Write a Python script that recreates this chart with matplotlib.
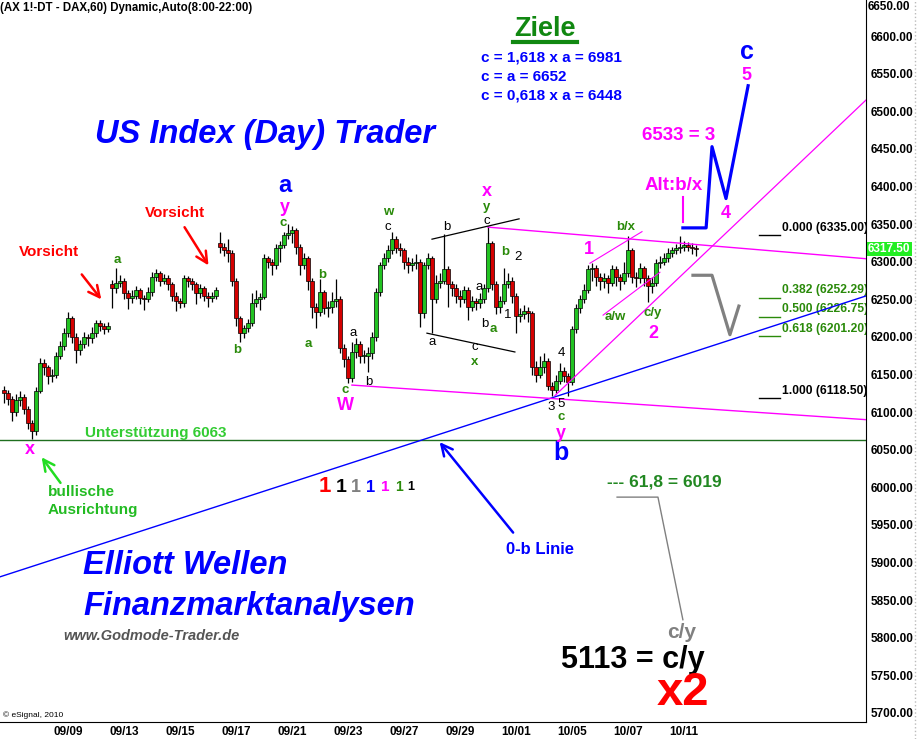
import matplotlib
matplotlib.use("Agg")
import matplotlib.pyplot as plt
from matplotlib.lines import Line2D
import numpy as np

plt.rcParams['font.family'] = ['Liberation Sans', 'DejaVu Sans']

bar_close = [6125, 6118, 6100, 6116, 6120, 6104, 6085, 6075, 6128, 6165,
             6160, 6148, 6150, 6175, 6188, 6205, 6225, 6200, 6182, 6190,
             6200, 6198, 6205, 6218, 6215, 6210, 6215, 6265, 6272, 6275,
             6258, 6252, 6255, 6262, 6252, 6250, 6260, 6280, 6285, 6275,
             6278, 6270, 6255, 6248, 6245, 6278, 6274, 6270, 6258, 6265,
             6255, 6252, 6255, 6262, 6320, 6316, 6312, 6275, 6225, 6205,
             6212, 6218, 6245, 6250, 6253, 6305, 6300, 6295, 6318, 6322,
             6335, 6338, 6342, 6320, 6295, 6305, 6275, 6240, 6233, 6260,
             6238, 6240, 6248, 6250, 6185, 6170, 6145, 6180, 6190, 6175,
             6175, 6178, 6200, 6260, 6295, 6305, 6315, 6330, 6318, 6315,
             6300, 6295, 6298, 6300, 6232, 6295, 6305, 6250, 6272, 6275,
             6290, 6270, 6265, 6255, 6250, 6262, 6240, 6248, 6245, 6250,
             6265, 6325, 6270, 6240, 6248, 6270, 6275, 6255, 6228, 6230,
             6235, 6232, 6160, 6150, 6160, 6168, 6135, 6130, 6142, 6155,
             6148, 6140, 6210, 6238, 6250, 6262, 6290, 6292, 6280, 6275,
             6278, 6272, 6290, 6280, 6275, 6285, 6315, 6280, 6278, 6292,
             6278, 6268, 6272, 6298, 6300, 6305, 6312, 6315, 6318, 6320,
             6322, 6320, 6318, 6317.5]
bar_high = [6135, 6130, 6122, 6124, 6128, 6124, 6108, 6090, 6134, 6172,
            6170, 6163, 6158, 6180, 6195, 6212, 6233, 6228, 6205, 6196,
            6207, 6204, 6213, 6223, 6222, 6219, 6220, 6276, 6292, 6282,
            6279, 6262, 6262, 6268, 6265, 6256, 6266, 6286, 6290, 6288,
            6284, 6282, 6273, 6260, 6252, 6282, 6281, 6278, 6273, 6270,
            6268, 6260, 6260, 6266, 6340, 6325, 6330, 6315, 6278, 6228,
            6216, 6224, 6258, 6262, 6258, 6310, 6308, 6304, 6324, 6328,
            6340, 6350, 6348, 6345, 6324, 6312, 6308, 6278, 6245, 6277,
            6263, 6248, 6260, 6277, 6254, 6190, 6174, 6193, 6198, 6195,
            6182, 6186, 6206, 6265, 6300, 6312, 6322, 6340, 6334, 6325,
            6318, 6306, 6305, 6310, 6303, 6300, 6312, 6308, 6282, 6285,
            6337, 6294, 6275, 6270, 6262, 6268, 6266, 6255, 6252, 6258,
            6270, 6348, 6328, 6275, 6255, 6292, 6285, 6280, 6258, 6238,
            6242, 6240, 6234, 6168, 6175, 6178, 6172, 6140, 6150, 6165,
            6160, 6152, 6215, 6244, 6256, 6270, 6296, 6298, 6295, 6285,
            6285, 6282, 6296, 6294, 6284, 6300, 6334, 6318, 6286, 6298,
            6294, 6282, 6280, 6303, 6308, 6312, 6318, 6320, 6324, 6334,
            6328, 6326, 6325, 6322]
bar_low = [6112, 6110, 6088, 6095, 6108, 6098, 6078, 6064, 6070, 6125,
           6150, 6138, 6140, 6146, 6170, 6182, 6200, 6192, 6165, 6176,
           6185, 6188, 6192, 6200, 6208, 6204, 6206, 6238, 6258, 6266,
           6250, 6237, 6245, 6250, 6244, 6236, 6246, 6255, 6274, 6268,
           6270, 6262, 6248, 6235, 6238, 6240, 6266, 6262, 6244, 6252,
           6248, 6240, 6247, 6250, 6312, 6308, 6300, 6268, 6215, 6193,
           6198, 6206, 6214, 6240, 6236, 6250, 6292, 6282, 6290, 6300,
           6318, 6330, 6325, 6310, 6282, 6290, 6262, 6225, 6212, 6228,
           6230, 6226, 6232, 6240, 6178, 6160, 6139, 6140, 6172, 6166,
           6165, 6153, 6170, 6195, 6255, 6290, 6300, 6310, 6312, 6308,
           6290, 6285, 6288, 6290, 6213, 6225, 6290, 6205, 6245, 6265,
           6270, 6240, 6255, 6245, 6240, 6245, 6222, 6234, 6236, 6238,
           6245, 6260, 6262, 6230, 6232, 6244, 6265, 6245, 6205, 6220,
           6224, 6220, 6150, 6140, 6145, 6152, 6130, 6122, 6126, 6138,
           6140, 6122, 6136, 6205, 6232, 6245, 6258, 6275, 6268, 6262,
           6265, 6258, 6268, 6268, 6262, 6270, 6280, 6272, 6266, 6272,
           6268, 6247, 6258, 6268, 6292, 6296, 6300, 6306, 6310, 6312,
           6314, 6314, 6310, 6307]
first_open = 6130
gap_opens = {27: 6270, 54: 6325}

date_labels = ['09/09', '09/13', '09/15', '09/17', '09/21', '09/23',
               '09/27', '09/29', '10/01', '10/05', '10/07', '10/11']

support = 6063
zero_b_days, zero_b_prices = [-2.43, 28.5], [5881, 6254.5]
upper_chan_days, upper_chan_prices = [15.0, 28.5], [6346, 6304]
lower_chan_days, lower_chan_prices = [10.14, 28.5], [6136, 6090]
trend_days, trend_prices = [17.39, 28.5], [6122, 6515]
line_1bx_days, line_1bx_prices = [18.64, 20.5], [6298, 6340]
line_awcy_days, line_awcy_prices = [19.11, 21.14], [6229, 6286]
tri_top_days, tri_top_prices = [13.0, 16.11], [6330, 6357]
tri_bot_days, tri_bot_prices = [12.82, 15.96], [6205, 6180]
proj_blue_days = [21.96, 22.79, 23.0, 23.5, 24.29]
proj_blue_prices = [6345, 6345, 6453, 6384, 6534]
proj_gray_days = [22.32, 23.0, 23.64, 23.96]
proj_gray_prices = [6282, 6282, 6203, 6241]
alt_tick_days, alt_tick_prices = [21.96, 21.96], [6386, 6353]
fib618_days, fib618_prices = [19.61, 21.07, 21.96], [5987, 5987, 5824]
fib_levels = [6335.00, 6252.29, 6226.75, 6201.20, 6118.50]
fib_ratios = ['0.000', '0.382', '0.500', '0.618', '1.000']
fib_colors = ['black', '#2a8a0a', '#2a8a0a', '#2a8a0a', 'black']

# arrows: (tail day, tail price, head day, head price, colour)
arrows = [(0.43, 6286, 1.25, 6247, 'red'),
          (4.11, 6349, 5.07, 6292, 'red'),
          (-0.21, 6003, -1.0, 6043, '#22dd22'),
          (15.96, 5937, 13.21, 6063, 'blue')]

W, H = 917, 739
fig = plt.figure(figsize=(W / 100, H / 100), dpi=100)
ax = fig.add_axes([0, 17 / H, 866 / W, 722 / H])
ax.set_xlim(-68 / 28, 798 / 28)
ax.set_ylim(5688, 6648)
for s in ['left', 'top']:
    ax.spines[s].set_visible(False)
ax.spines['right'].set_color('black')
ax.spines['bottom'].set_color('black')
ax.yaxis.tick_right()
ax.set_yticks(np.arange(5700, 6601, 50))
ax.set_yticklabels(['%.2f' % v for v in np.arange(5700, 6601, 50)])
ax.set_xticks(np.arange(len(date_labels)) * 2)
ax.set_xticklabels(date_labels)
ax.tick_params(length=0, labelsize=8.5, pad=3)
for lab in ax.get_xticklabels() + ax.get_yticklabels():
    lab.set_fontweight('bold')

# candles
close = np.array(bar_close, dtype=float)
opens = np.concatenate([[first_open], close[:-1]])
for k, v in gap_opens.items():
    opens[k] = v
xs = (np.arange(len(close)) - 16) / 7
up = close >= opens
ax.vlines(xs, bar_low, bar_high, color='black', lw=0.9, zorder=2)
ax.bar(xs, np.maximum(np.abs(close - opens), 1.0), bottom=np.minimum(opens, close),
       width=0.11, color=np.where(up, '#22c322', '#d40000'), edgecolor='black',
       linewidth=0.5, zorder=3)

# lines
ax.axhline(support, color='#1f6f1f', lw=1, zorder=1)
ax.plot(zero_b_days, zero_b_prices, color='blue', lw=1, zorder=4)
ax.plot(upper_chan_days, upper_chan_prices, color='#ff00ff', lw=1, zorder=4)
ax.plot(lower_chan_days, lower_chan_prices, color='#ff00ff', lw=1, zorder=4)
ax.plot(trend_days, trend_prices, color='#ff00ff', lw=0.9, zorder=4)
ax.plot(line_1bx_days, line_1bx_prices, color='#ff00ff', lw=0.8, zorder=4)
ax.plot(line_awcy_days, line_awcy_prices, color='#ff00ff', lw=0.8, zorder=4)
ax.plot(tri_top_days, tri_top_prices, color='black', lw=0.9, zorder=4)
ax.plot(tri_bot_days, tri_bot_prices, color='black', lw=0.9, zorder=4)
ax.plot(proj_blue_days, proj_blue_prices, color='blue', lw=2.3, zorder=4)
ax.plot(proj_gray_days, proj_gray_prices, color='#808080', lw=2.3, zorder=4)
ax.plot(alt_tick_days, alt_tick_prices, color='#ff00ff', lw=1.5, zorder=4)
ax.plot(fib618_days, fib618_prices, color='#808080', lw=1, zorder=4)
for lvl, r, c in zip(fib_levels, fib_ratios, fib_colors):
    ax.plot([24.68, 25.43], [lvl, lvl], color=c, lw=1, zorder=4)
    ax.text(25.5, lvl + 2, '%s (%.2f)' % (r, lvl), color=c, fontsize=8.7,
            fontweight='bold', va='bottom', ha='left', clip_on=True)

for x0, y0, x1, y1, c in arrows:
    ax.annotate('', xy=(x1, y1), xytext=(x0, y0),
                arrowprops=dict(arrowstyle='->,head_length=0.8,head_width=0.4',
                                color=c, lw=1.8))


def put(x, y, s, color, size, ha='center', weight='bold', style='normal', **kw):
    fig.text(x / W, 1 - y / H, s, color=color, fontsize=size, fontweight=weight,
             fontstyle=style, ha=ha, va='center', **kw)


G = '#2a8a0a'
M = '#ff00ff'
put(0, 8, '(AX 1!-DT - DAX,60) Dynamic,Auto(8:00-22:00)', 'black', 8.3, ha='left')
put(3, 715, '\u00a9 eSignal, 2010', 'black', 6, ha='left', weight='normal')
put(868, 7, '6650.00', 'black', 8.5, ha='left')
put(868, 249, '6317.50', 'white', 8.5, ha='left',
    bbox=dict(boxstyle='square,pad=0.12', fc='#22ee22', ec='none'))
fig.add_artist(Line2D([915 / W, 915 / W], [0, 1], ls=':', color='#bbbbbb', lw=1))

put(545, 29, 'Ziele', '#118811', 19.5)
fig.add_artist(Line2D([513 / W, 577 / W], [1 - 42 / H, 1 - 42 / H], color='#118811', lw=3))
put(481, 57, 'c = 1,618 x a = 6981', 'blue', 11, ha='left')
put(481, 77, 'c = a = 6652', 'blue', 11, ha='left')
put(481, 96, 'c = 0,618 x a = 6448', 'blue', 11, ha='left')

put(95, 135, 'US Index (Day) Trader', 'blue', 23.5, ha='left', style='italic')
put(83, 565, 'Elliott Wellen', 'blue', 23.5, ha='left', style='italic')
put(83, 606, 'Finanzmarktanalysen', 'blue', 23.5, ha='left', style='italic')
put(63, 636, 'www.Godmode-Trader.de', '#555555', 10.5, ha='left', style='italic')

put(49, 252, 'Vorsicht', 'red', 11)
put(175, 213, 'Vorsicht', 'red', 11)
put(85, 433, 'Unterst\u00fctzung 6063', '#33cc33', 11, ha='left')
put(48, 501, 'bullische\nAusrichtung', '#22bb22', 11, ha='left', linespacing=1.3)
put(540, 550, '0-b Linie', 'blue', 12)
put(607, 482, '--- 61,8 = 6019', '#228822', 12.5, ha='left')
put(682, 633, 'c/y', '#808080', 15)
put(633, 660, '5113 = c/y', 'black', 22)
put(683, 693, 'x2', 'red', 34)

ones = [(325, 'red', 16), (341, 'black', 14), (356, '#808080', 13), (371, 'blue', 12),
        (385, M, 11), (399, G, 10), (411, 'black', 9)]
for x, c, s in ones:
    put(x, 487, '1', c, s)

# big wave labels
put(285, 185, 'a', 'blue', 17)
put(561, 453, 'b', 'blue', 18)
put(747, 52, 'c', 'blue', 18)
for x, y, s in [(285, 207, 'y'), (30, 450, 'x'), (345, 405, 'W'), (487, 192, 'x'),
                (561, 433, 'y'), (589, 250, '1'), (653, 333, '2'), (746, 75, '5'),
                (726, 213, '4')]:
    put(x, y, s, M, 13)
put(642, 135, '6533 = 3', M, 13.5, ha='left')
put(645, 185, 'Alt:b/x', M, 13.5, ha='left')

# small wave labels
for x, y, s in [(117, 260, 'a'), (237, 350, 'b'), (283, 223, 'c'), (322, 275, 'b'),
                (308, 344, 'a'), (388, 212, 'w'), (345, 390, 'c'), (487, 207, 'y'),
                (505, 252, 'b'), (493, 329, 'a'), (475, 362, 'x'), (561, 417, 'c'),
                (626, 227, 'b/x'), (615, 317, 'a/w'), (653, 313, 'c/y')]:
    put(x, y, s, G, 9.5)
for x, y, s in [(388, 227, 'c'), (353, 333, 'a'), (369, 382, 'b'), (432, 342, 'a'),
                (487, 221, 'c'), (447, 227, 'b'), (518, 257, '2'),
                (479, 287, 'a'), (485, 324, 'b'), (508, 315, '1'), (475, 347, 'c'),
                (561, 353, '4'), (551, 407, '3'), (561, 404, '5')]:
    put(x, y, s, 'black', 9.5, weight='normal')

fig.savefig('out.png', dpi=100)
